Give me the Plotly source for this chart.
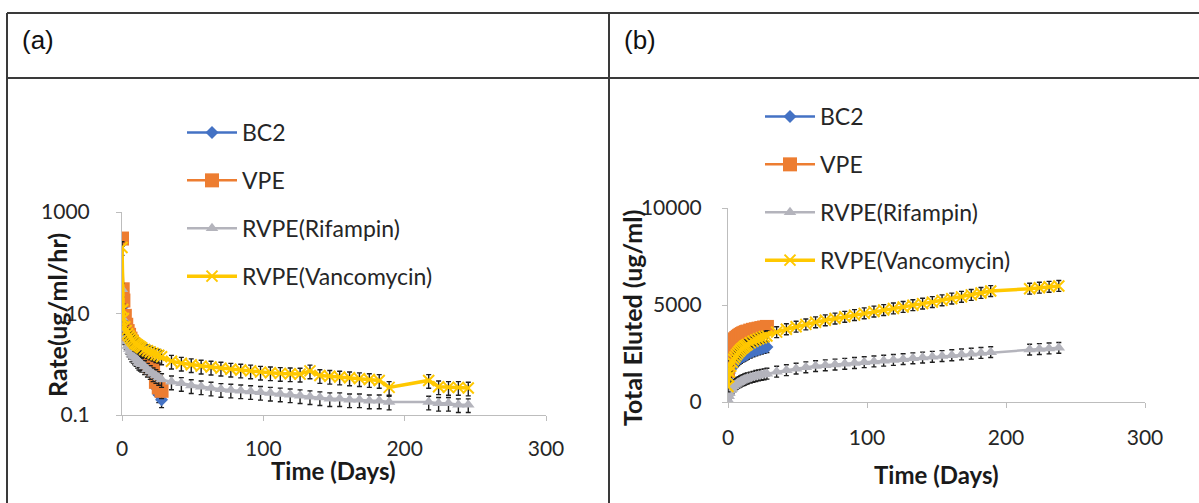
import plotly.graph_objects as go

# Sampling days
days_short = [0, 0.5, 1, 2, 3, 4, 5, 6, 7, 8, 9, 10, 11, 12, 13, 14, 16, 18, 20, 22, 24, 26, 28]
days_long = days_short + [35, 42, 49, 56, 63, 70, 77, 84, 91, 98, 105, 112, 119, 126, 133,
                          140, 147, 154, 161, 168, 175, 182, 189]
days_rate_tail = [217, 224, 231, 238, 245]
days_cum_tail = [217, 224, 231, 238]

# (a) Elution rate, ug/ml/hr
rate_bc2 = [250, 25, 14, 7, 5, 4, 3.3, 2.9, 2.6, 2.3, 2.1, 1.9, 1.7, 1.5, 1.4, 1.3,
            1.1, 0.95, 0.85, 0.7, 0.35, 0.25, 0.2]
rate_vpe = [300, 30, 18, 9, 6, 4.5, 3.8, 3.2, 2.8, 2.5, 2.2, 2.0, 1.8, 1.6, 1.5, 1.4,
            1.2, 1.0, 0.9, 0.8, 0.45, 0.35, 0.3]
rate_rif = [30, 8, 5, 3.5, 2.8, 2.3, 2.0, 1.8, 1.6, 1.5, 1.4, 1.3, 1.2, 1.1, 1.05, 1.0,
            0.9, 0.8, 0.72, 0.65, 0.6, 0.55, 0.5,
            0.45, 0.42, 0.38, 0.36, 0.34, 0.32, 0.31, 0.3, 0.29, 0.28, 0.27, 0.26, 0.25,
            0.24, 0.23, 0.22, 0.21, 0.21, 0.2, 0.2, 0.19, 0.19, 0.18,
            0.18, 0.17, 0.17, 0.16, 0.16]
rate_van = [200, 12, 8, 5.5, 4.6, 4.0, 3.6, 3.3, 3.0, 2.8, 2.6, 2.5, 2.4, 2.3, 2.2, 2.1,
            1.95, 1.85, 1.75, 1.65, 1.55, 1.5, 1.4,
            1.15, 1.05, 0.98, 0.92, 0.88, 0.84, 0.8, 0.77, 0.74, 0.7, 0.68, 0.66, 0.65,
            0.64, 0.74, 0.6, 0.58, 0.56, 0.54, 0.52, 0.5, 0.48, 0.35,
            0.48, 0.36, 0.35, 0.35, 0.34]

# (b) Cumulative amount eluted, ug/ml
cum_bc2 = [1000, 1300, 1500, 1700, 1850, 1950, 2030, 2100, 2160, 2220, 2270, 2320, 2360,
           2400, 2440, 2480, 2550, 2610, 2660, 2710, 2750, 2790, 2830]
cum_vpe = [1600, 2300, 2650, 2900, 3050, 3150, 3230, 3300, 3360, 3410, 3460, 3500, 3540,
           3570, 3600, 3630, 3680, 3720, 3750, 3780, 3810, 3840, 3870]
cum_rif = [100, 300, 450, 600, 700, 800, 870, 930, 980, 1020, 1060, 1100, 1130, 1160,
           1190, 1220, 1260, 1300, 1340, 1370, 1400, 1430, 1460,
           1560, 1640, 1720, 1790, 1850, 1890, 1930, 1970, 2010, 2050, 2090, 2130, 2170,
           2210, 2250, 2290, 2330, 2370, 2410, 2450, 2490, 2530, 2570,
           2700, 2730, 2760, 2790]
cum_van = [800, 1300, 1550, 1850, 2050, 2200, 2320, 2430, 2520, 2600, 2680, 2750, 2810,
           2870, 2920, 2970, 3050, 3130, 3200, 3260, 3310, 3360, 3400,
           3600, 3750, 3880, 4000, 4110, 4210, 4300, 4390, 4480, 4570, 4660, 4740, 4820,
           4900, 4990, 5070, 5150, 5240, 5330, 5420, 5520, 5620, 5720,
           5840, 5890, 5940, 5980]

names = ["BC2", "VPE", "RVPE(Rifampin)", "RVPE(Vancomycin)"]
colors = ["#4472C4", "#ED7D31", "#B4B4BC", "#FFC800"]
symbols = ["diamond", "square", "triangle-up", "x-thin-open"]
msizes = [10, 14, 11, 11]

FONT = "Lato"
AXIS_GREY = "#BDBDBD"

fig = go.Figure()

rate_x = [days_short, days_short, days_long + days_rate_tail, days_long + days_rate_tail]
rate_y = [rate_bc2, rate_vpe, rate_rif, rate_van]
cum_x = [days_short, days_short, days_long + days_cum_tail, days_long + days_cum_tail]
cum_y = [cum_bc2, cum_vpe, cum_rif, cum_van]


def marker_for(i):
    m = dict(symbol=symbols[i], size=msizes[i], color=colors[i])
    if symbols[i].startswith("x"):
        m["line"] = dict(color=colors[i], width=2)
    else:
        m["line"] = dict(width=0)
    return m


for i in range(4):
    fig.add_trace(go.Scatter(
        x=rate_x[i], y=rate_y[i], name=names[i], mode="lines+markers",
        line=dict(color=colors[i], width=3.5 if i == 3 else 2.5),
        marker=marker_for(i),
        error_y=dict(type="percent", value=30, color="#1e1e1e", thickness=1.4, width=2.5),
        xaxis="x", yaxis="y", legend="legend", legendgroup="a%d" % i,
    ))

for i in range(4):
    fig.add_trace(go.Scatter(
        x=cum_x[i], y=cum_y[i], name=names[i], mode="lines+markers",
        line=dict(color=colors[i], width=3.5 if i == 3 else 2.5),
        marker=marker_for(i),
        error_y=dict(type="constant", value=280, color="#1e1e1e", thickness=1.4, width=2.5),
        xaxis="x2", yaxis="y2", legend="legend2", legendgroup="b%d" % i,
    ))

W, H = 1199, 503


def px_x(p):
    return p / W


def px_y(p):
    return 1 - p / H


tick_font = dict(family=FONT, size=21, color="#262626")
axis_common = dict(showgrid=False, zeroline=False, showline=True, linecolor=AXIS_GREY,
                   linewidth=1, ticks="outside", ticklen=5, tickcolor=AXIS_GREY,
                   tickfont=tick_font, automargin=False)
legend_font = dict(family=FONT, size=23, color="#262626")

fig.update_layout(
    width=W, height=H,
    margin=dict(l=0, r=0, t=0, b=0, pad=0, autoexpand=False),
    paper_bgcolor="white", plot_bgcolor="white",
    xaxis=dict(domain=[px_x(122), px_x(546)], range=[0, 300], dtick=100,
               anchor="y", ticklabelstandoff=10, **axis_common),
    yaxis=dict(domain=[px_y(415), px_y(212)], type="log", range=[-1, 3],
               tickvals=[0.1, 10, 1000], ticktext=["0.1", "10", "1000"],
               anchor="x", ticklabelstandoff=22, **axis_common),
    xaxis2=dict(domain=[px_x(728), px_x(1145)], range=[0, 300], dtick=100,
                anchor="y2", ticklabelstandoff=12, **axis_common),
    yaxis2=dict(domain=[px_y(402), px_y(208)], range=[0, 10000],
                tickvals=[0, 5000, 10000], ticktext=["0", "5000", "10000"],
                anchor="x2", ticklabelstandoff=16, **axis_common),
    legend=dict(x=px_x(182), y=px_y(111), xanchor="left", yanchor="top",
                font=legend_font, tracegroupgap=15, bgcolor="rgba(0,0,0,0)", itemwidth=50),
    legend2=dict(x=px_x(760), y=px_y(95), xanchor="left", yanchor="top",
                 font=legend_font, tracegroupgap=15, bgcolor="rgba(0,0,0,0)", itemwidth=50),
    showlegend=True,
)

# Table frame around the two panels
frame = dict(type="line", xref="paper", yref="paper", line=dict(color="#3a3a3a", width=2))
fig.add_shape(x0=px_x(7), x1=1, y0=px_y(13), y1=px_y(13), **frame)
fig.add_shape(x0=px_x(7), x1=1, y0=px_y(78), y1=px_y(78), **frame)
fig.add_shape(x0=px_x(7), x1=px_x(7), y0=px_y(13), y1=0, **frame)
fig.add_shape(x0=px_x(609), x1=px_x(609), y0=px_y(13), y1=0, **frame)

y_title = dict(family=FONT, size=25, color="#1a1a1a", weight="bold")
x_title = dict(family=FONT, size=24, color="#1a1a1a", weight="bold")
panel_font = dict(family="Liberation Sans", size=26, color="#111111")
annotations = [
    dict(text="(a)", x=px_x(20), y=px_y(40), xanchor="left", yanchor="middle",
         font=panel_font),
    dict(text="(b)", x=px_x(622), y=px_y(40), xanchor="left", yanchor="middle",
         font=panel_font),
    dict(text="Rate(ug/ml/hr)", x=px_x(57), y=px_y(315), textangle=-90,
         xanchor="center", yanchor="middle", font=y_title),
    dict(text="Total Eluted (ug/ml)", x=px_x(632), y=px_y(318), textangle=-90,
         xanchor="center", yanchor="middle", font=y_title),
    dict(text="Time (Days)", x=px_x(333), y=px_y(470), xanchor="center",
         yanchor="middle", font=x_title),
    dict(text="Time (Days)", x=px_x(936), y=px_y(474), xanchor="center",
         yanchor="middle", font=x_title),
]
for a in annotations:
    a.update(xref="paper", yref="paper", showarrow=False)
fig.update_layout(annotations=annotations)

fig.write_html(
    "out.html",
    post_script="document.body.style.margin='0';document.body.style.overflow='hidden';",
)
